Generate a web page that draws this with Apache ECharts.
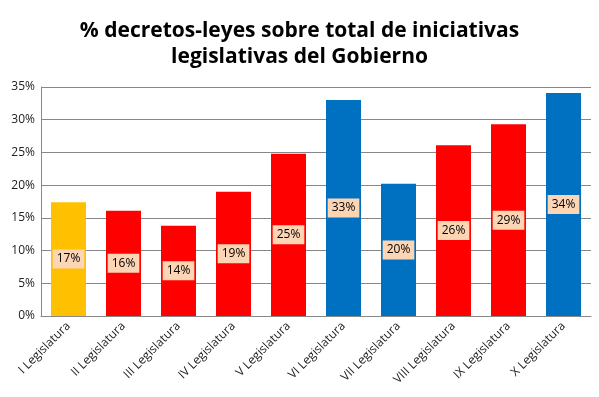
<!DOCTYPE html>
<html><head><meta charset="utf-8">
<script src="https://cdn.jsdelivr.net/npm/echarts@6/dist/echarts.min.js"></script>
<style>html,body{margin:0;padding:0;background:#fff}#c{width:599px;height:397px}</style>
</head><body><div id="c"></div>
<script>
const categories = ["I Legislatura","II Legislatura","III Legislatura","IV Legislatura","V Legislatura","VI Legislatura","VII Legislatura","VIII Legislatura","IX Legislatura","X Legislatura"];
const values = [17.4, 16.1, 13.8, 19.0, 24.8, 33.0, 20.2, 26.1, 29.3, 34.1];
const barColors = ["#FFC000","#FF0000","#FF0000","#FF0000","#FF0000","#0070C0","#0070C0","#FF0000","#FF0000","#0070C0"];
const titleText = "% decretos-leyes sobre total de iniciativas\nlegislativas del Gobierno";

const chart = echarts.init(document.getElementById('c'));
chart.setOption({
  animation: false,
  title: {
    text: titleText, left: 'center', top: 13,
    textStyle: {fontFamily: 'Open Sans', fontWeight: 'bold', fontSize: 21, lineHeight: 26, color: '#000'}
  },
  grid: {left: 41, right: 8, top: 87, bottom: 81},
  xAxis: {
    type: 'category', data: categories,
    axisLine: {lineStyle: {color: '#888'}},
    axisTick: {show: false},
    axisLabel: {rotate: 45, interval: 0, fontFamily: 'Open Sans', fontSize: 12, color: '#222', margin: 8}
  },
  yAxis: {
    type: 'value', min: 0, max: 35, interval: 5,
    axisLine: {show: true, lineStyle: {color: '#888'}},
    axisTick: {show: false},
    splitLine: {lineStyle: {color: '#888'}},
    axisLabel: {formatter: '{value}%', fontFamily: 'Open Sans', fontSize: 12, color: '#222', margin: 6}
  },
  series: [{
    type: 'bar', barWidth: 35,
    data: values.map((v, i) => ({value: v, itemStyle: {color: barColors[i]}})),
    label: {
      show: true, position: 'inside',
      formatter: p => Math.round(p.value) + '%',
      backgroundColor: '#FCD5B5', padding: [4, 4, 3, 4],
      fontFamily: 'Open Sans', fontSize: 12, color: '#000'
    }
  }]
});
</script></body></html>
